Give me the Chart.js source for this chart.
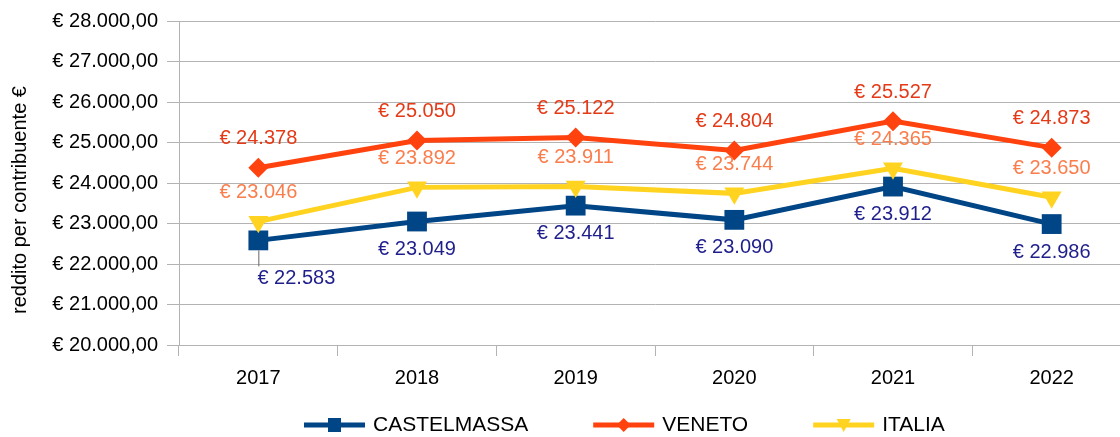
<!DOCTYPE html>
<html>
<head>
<meta charset="utf-8">
<script src="https://cdn.jsdelivr.net/npm/chart.js@4/dist/chart.umd.min.js"></script>
<style>
  html, body { margin: 0; padding: 0; background: #fff; overflow: hidden; }
  #wrap { position: relative; width: 1120px; height: 437px; overflow: hidden; }
  canvas { display: block; }
</style>
</head>
<body>
<div id="wrap"><canvas id="c" width="1145" height="437" style="width:1145px;height:437px"></canvas></div>
<script>
const categories = ['2017', '2018', '2019', '2020', '2021', '2022'];
const seriesNames = ['CASTELMASSA', 'VENETO', 'ITALIA'];
const castelmassa = [22583, 23049, 23441, 23090, 23912, 22986];
const veneto = [24378, 25050, 25122, 24804, 25527, 24873];
const italia = [23046, 23892, 23911, 23744, 24365, 23650];
const yMin = 20000, yMax = 28000, yStep = 1000;
const yTitle = 'reddito per contribuente €';

const FONT = '"Liberation Sans", Arial, sans-serif';
const lineColors = ['#004586', '#ff420e', '#ffd320'];
const labelColors = ['#1f1f8c', '#e43a17', '#fa7d4c'];
const gridColor = '#b3b3b3';

function group(n) {
  return String(Math.round(n)).replace(/\B(?=(\d{3})+(?!\d))/g, '.');
}

const labelPlugin = {
  id: 'labels',
  afterDatasetsDraw(chart) {
    const ctx = chart.ctx;
    ctx.save();
    ctx.font = '20px ' + FONT;
    ctx.textBaseline = 'middle';
    ctx.textAlign = 'center';
    chart.data.datasets.forEach((ds, di) => {
      const meta = chart.getDatasetMeta(di);
      meta.data.forEach((pt, i) => {
        const txt = '€ ' + group(ds.data[i]);
        ctx.fillStyle = labelColors[di];
        if (di === 0) {
          if (i === 0) {
            ctx.strokeStyle = '#666';
            ctx.lineWidth = 1;
            ctx.beginPath();
            ctx.moveTo(pt.x + 0.5, pt.y + 10);
            ctx.lineTo(pt.x + 0.5, pt.y + 26);
            ctx.stroke();
            ctx.fillText(txt, pt.x + 38, pt.y + 38);
          } else {
            ctx.fillText(txt, pt.x, pt.y + 28);
          }
        } else {
          ctx.fillText(txt, pt.x, pt.y - 29);
        }
      });
    });
    ctx.restore();
  },
  afterDraw(chart) {
    const ctx = chart.ctx;
    ctx.save();
    ctx.font = '20px ' + FONT;
    ctx.fillStyle = '#000';
    ctx.textAlign = 'center';
    ctx.textBaseline = 'middle';
    ctx.translate(20, 200);
    ctx.rotate(-Math.PI / 2);
    ctx.fillText(yTitle, 0, 0);
    ctx.restore();

    ctx.save();
    ctx.font = '21px ' + FONT;
    ctx.textBaseline = 'middle';
    ctx.textAlign = 'left';
    let x = 304;
    const y = 425;
    const lineLen = 61;
    seriesNames.forEach((name, di) => {
      ctx.strokeStyle = lineColors[di];
      ctx.lineWidth = 5;
      ctx.beginPath();
      ctx.moveTo(x, y);
      ctx.lineTo(x + lineLen, y);
      ctx.stroke();
      const cx = x + lineLen / 2;
      ctx.fillStyle = lineColors[di];
      ctx.beginPath();
      if (di === 0) {
        ctx.rect(cx - 6.5, y - 7, 13, 14);
      } else if (di === 1) {
        ctx.moveTo(cx, y - 7); ctx.lineTo(cx + 7, y); ctx.lineTo(cx, y + 7); ctx.lineTo(cx - 7, y);
        ctx.closePath();
      } else {
        ctx.moveTo(cx - 7, y - 6); ctx.lineTo(cx + 7, y - 6); ctx.lineTo(cx, y + 7);
        ctx.closePath();
      }
      ctx.fill();
      ctx.fillStyle = '#000';
      ctx.fillText(name, x + lineLen + 8, y);
      x += lineLen + 8 + ctx.measureText(name).width + 65;
    });
    ctx.restore();
  }
};

const styles = [
  { pointStyle: 'rect', pointRadius: 14, rotation: 0 },
  { pointStyle: 'rectRot', pointRadius: 10, rotation: 0 },
  { pointStyle: 'triangle', pointRadius: 11.5, rotation: 180 }
];
const seriesData = [castelmassa, veneto, italia];

new Chart(document.getElementById('c'), {
  type: 'line',
  data: {
    labels: categories,
    datasets: seriesData.map((d, i) => ({
      label: seriesNames[i],
      data: d,
      borderColor: lineColors[i],
      backgroundColor: lineColors[i],
      borderWidth: 5,
      pointStyle: styles[i].pointStyle,
      pointRadius: styles[i].pointRadius,
      pointRotation: styles[i].rotation,
      pointBackgroundColor: lineColors[i],
      pointBorderColor: lineColors[i],
      pointBorderWidth: 0,
      tension: 0,
      order: 2 - i
    }))
  },
  options: {
    responsive: false,
    devicePixelRatio: 1,
    animation: false,
    events: [],
    layout: { padding: { left: 0, right: 0, top: 20, bottom: 0 } },
    plugins: { legend: { display: false }, tooltip: { enabled: false } },
    scales: {
      x: {
        offset: true,
        grid: { offset: true, drawOnChartArea: false, color: gridColor, tickLength: 11, lineWidth: 1 },
        border: { color: gridColor },
        ticks: { color: '#000', font: { family: FONT, size: 20 }, padding: 10, maxRotation: 0 },
        afterFit(scale) { scale.height = 92; }
      },
      y: {
        min: yMin,
        max: yMax,
        grid: { color: gridColor, tickLength: 12, lineWidth: 1 },
        border: { color: gridColor },
        ticks: {
          stepSize: yStep,
          color: '#000',
          font: { family: FONT, size: 20 },
          padding: 9,
          callback: v => '€ ' + group(v) + ',00'
        },
        afterFit(scale) { scale.width = 179; }
      }
    }
  },
  plugins: [labelPlugin]
});
</script>
</body>
</html>
